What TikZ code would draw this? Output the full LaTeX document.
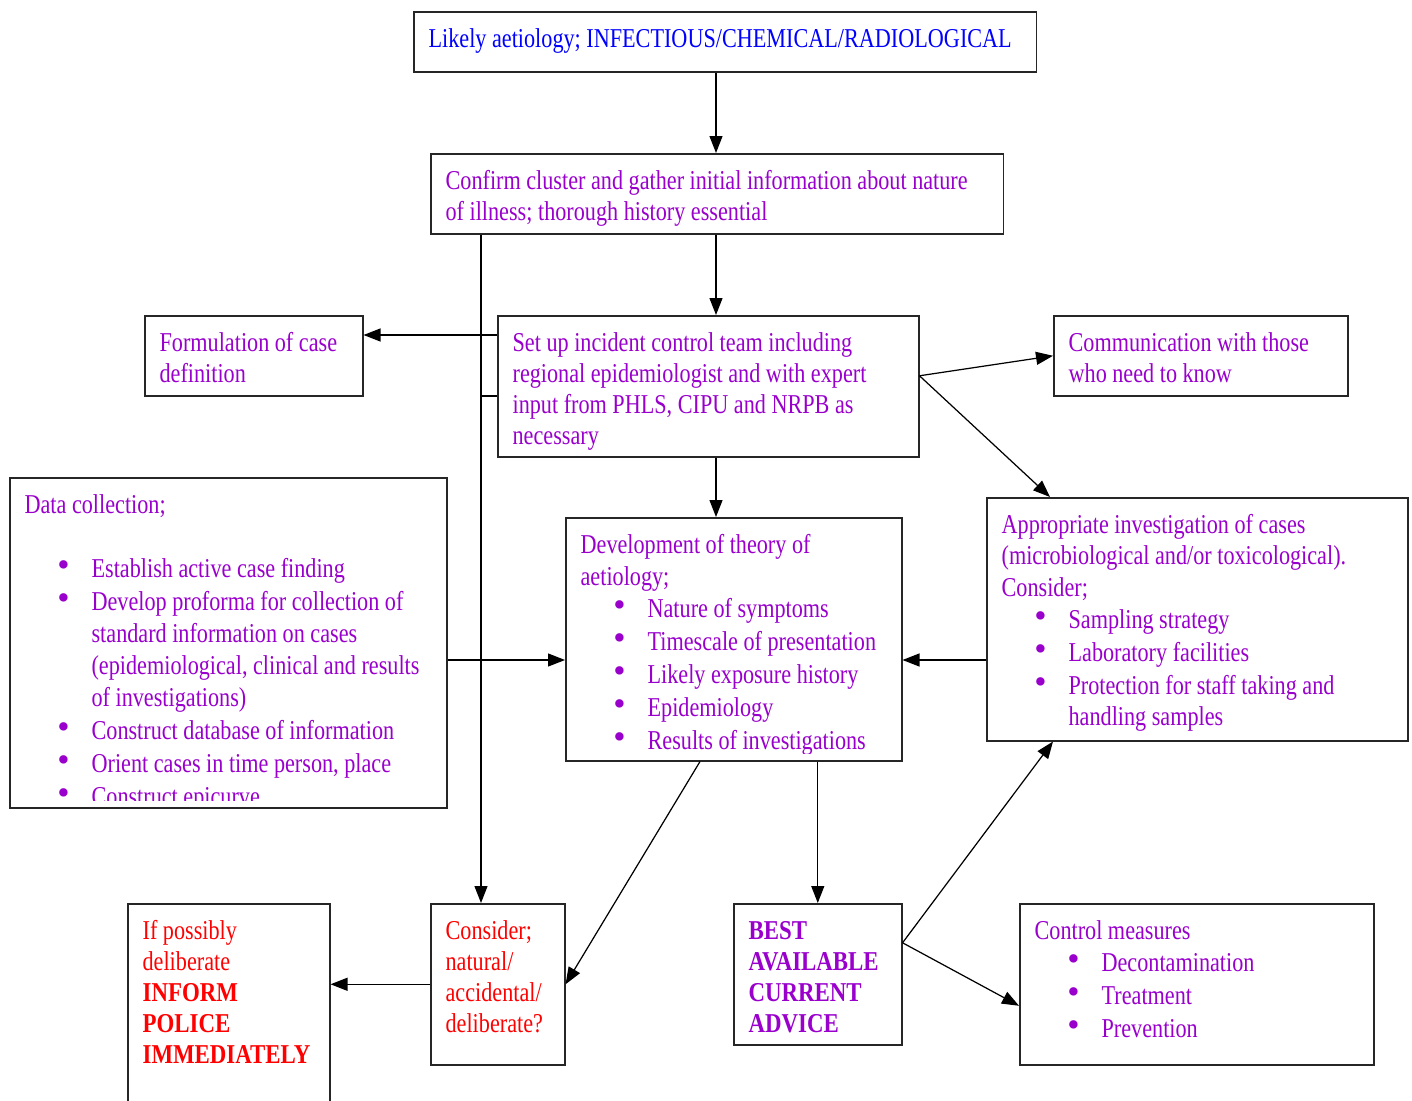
\documentclass[tikz,border=0pt]{standalone}
\usepackage{fontspec}
\setmainfont{Liberation Serif}[UprightFeatures={FakeStretch=0.815}, BoldFeatures={FakeStretch=0.84}]
\newfontfamily\dotfont{Liberation Serif}
\usetikzlibrary{arrows.meta}

\definecolor{bluetext}{RGB}{0,0,255}
\definecolor{purptext}{RGB}{153,0,204}
\definecolor{redtext}{RGB}{255,0,0}

\hyphenpenalty=10000

% bullet list used inside the boxes
\newcommand{\bigdot}{\raisebox{0.5pt}{\dotfont\fontsize{20pt}{0pt}\selectfont\textbullet}}
\newenvironment{bullets}{%
  \fontsize{15.5pt}{18.1pt}\selectfont
  \begin{list}{\bigdot}{%
    \setlength{\leftmargin}{1.34cm}%
    \setlength{\labelsep}{0.44cm}%
    \setlength{\labelwidth}{0.6cm}%
    \setlength{\topsep}{0pt}\setlength{\partopsep}{0pt}%
    \setlength{\parsep}{0pt}\setlength{\itemsep}{0.7pt}}}%
  {\end{list}}

\begin{document}
\begin{tikzpicture}[
        x = 0.02cm, y = -0.02cm, % one unit per pixel, y downwards
        ->, % Arrow style
        > = {Triangle[length=0.34cm, width=0.26cm]}, % arrow head style
        line width = 0.7pt, % line style
        font = \fontsize{15.5pt}{17.6pt}\selectfont
      ]

      \tikzstyle{box}=[rectangle, draw=black!85, line width=0.9pt, anchor=north west]
      \tikzstyle{txt}=[anchor=base west, inner sep=0pt, text=purptext, execute at begin node={\raggedright\spaceskip=0pt\xspaceskip=0pt}]

      \useasboundingbox (0,0) rectangle (1412,1101);

      % boxes
      \node[box, minimum width=12.46cm, minimum height=1.2cm] (aet) at (413,11) {};
      \node[box, minimum width=11.46cm, minimum height=1.6cm] (conf) at (430,153) {};
      \node[box, minimum width=4.36cm, minimum height=1.6cm] (form) at (144,315) {};
      \node[box, minimum width=8.42cm, minimum height=2.82cm] (setup) at (497,315) {};
      \node[box, minimum width=5.88cm, minimum height=1.6cm] (comm) at (1053,315) {};
      \node[box, minimum width=8.74cm, minimum height=6.6cm] (data) at (9,477) {};
      \node[box, minimum width=6.72cm, minimum height=4.86cm] (dev) at (565,517) {};
      \node[box, minimum width=8.42cm, minimum height=4.86cm] (appr) at (986,497) {};
      \node[box, minimum width=4.04cm, minimum height=4.14cm] (inform) at (127,903) {};
      \node[box, minimum width=2.68cm, minimum height=3.22cm] (cons) at (430,903) {};
      \node[box, minimum width=3.36cm, minimum height=2.82cm] (best) at (733,903) {};
      \node[box, minimum width=7.08cm, minimum height=3.22cm] (ctrl) at (1019,903) {};

      % texts, first baseline 36.5 below the top of each box
      \node[txt, text=bluetext] (aettxt) at ([shift={(15,36.5)}]aet.north west) {Likely aetiology; INFECTIOUS/CHEMICAL/RADIOLOGICAL};
      \node[txt, text width=11cm] (conftxt) at ([shift={(15,36.5)}]conf.north west) {Confirm cluster and gather initial information about nature\\ of illness; thorough history essential};
      \node[txt, text width=4cm] (formtxt) at ([shift={(15,36.5)}]form.north west) {Formulation of case\\ definition};
      \node[txt, text width=8cm] (setuptxt) at ([shift={(15,36.5)}]setup.north west) {Set up incident control team including\\ regional epidemiologist and with expert\\ input from PHLS, CIPU and NRPB as\\ necessary};
      \node[txt, text width=5.5cm] (commtxt) at ([shift={(15,36.5)}]comm.north west) {Communication with those\\ who need to know};
      \node[txt, text width=8cm] (apprtxt) at ([shift={(15,36.5)}]appr.north west) {Appropriate investigation of cases\\ (microbiological and/or toxicological).\\ Consider;
        \begin{bullets}
          \item Sampling strategy
          \item Laboratory facilities
          \item Protection for staff taking and\\ handling samples
        \end{bullets}};
      \node[txt, text=redtext, text width=3.6cm] (informtxt) at ([shift={(15,36.5)}]inform.north west) {If possibly\\ deliberate\\ \textbf{INFORM}\\ \textbf{POLICE}\\ \textbf{IMMEDIATELY}};
      \node[txt, text=redtext, text width=2.4cm] (constxt) at ([shift={(15,36.5)}]cons.north west) {Consider;\\ natural/\\ accidental/\\ deliberate?};
      \node[txt, text width=3cm] (besttxt) at ([shift={(15,36.5)}]best.north west) {\bfseries BEST\\ AVAILABLE\\ CURRENT\\ ADVICE};
      \node[txt, text width=6.7cm] (ctrltxt) at ([shift={(15,36.5)}]ctrl.north west) {Control measures
        \begin{bullets}
          \item Decontamination
          \item Treatment
          \item Prevention
        \end{bullets}};

      % texts that are cut off at the foot of their boxes
      \begin{scope}
        \clip (data.north west) rectangle ([yshift=0.16cm]data.south east);
        \node[txt, text width=8.2cm] (datatxt) at ([shift={(15,36.5)}]data.north west) {Data collection;\par\vspace{18.5pt}
          \begin{bullets}
            \item Establish active case finding
            \item Develop proforma for collection of\\ standard information on cases\\ (epidemiological, clinical and results\\ of investigations)
            \item Construct database of information
            \item Orient cases in time person, place
            \item Construct epicurve
          \end{bullets}};
      \end{scope}
      \begin{scope}
        \clip (dev.north west) rectangle ([yshift=0.16cm]dev.south east);
        \node[txt, text width=6.4cm] (devtxt) at ([shift={(15,36.5)}]dev.north west) {Development of theory of\\ aetiology;
          \begin{bullets}
            \item Nature of symptoms
            \item Timescale of presentation
            \item Likely exposure history
            \item Epidemiology
            \item Results of investigations
          \end{bullets}};
      \end{scope}

      % connectors
      \coordinate (ax) at (716,0);
      \coordinate (vx) at (481,0);
      \coordinate (dx) at (700,0);
      \coordinate (fy) at (0,335);
      \coordinate (jy) at (0,396);
      \coordinate (ly) at (0,660);

      \path (aet.south -| ax) edge (conf.north -| ax);
      \path (conf.south -| ax) edge (setup.north -| ax);
      \path (conf.south -| vx) edge (cons.north -| vx);
      \path (setup.west |- fy) edge (form.east |- fy);
      \draw[-] (setup.west |- jy) -- (vx |- jy);
      \path (setup.south -| ax) edge (dev.north -| ax);
      \path ([yshift=0.21cm]setup.east) edge (comm.west);
      \path ([yshift=0.21cm]setup.east) edge ([xshift=1.28cm]appr.north west);
      \path (data.east |- ly) edge (dev.west |- ly);
      \path (appr.west |- ly) edge (dev.east |- ly);
      \path (dev.south -| dx) edge (cons.east);
      \path (dev.south -| best.north) edge (best.north);
      \path ([yshift=0.63cm]best.east) edge ([xshift=1.34cm]appr.south west);
      \path ([yshift=0.63cm]best.east) edge ([yshift=-0.43cm]ctrl.west);
      \path (cons.west) edge (cons.west -| inform.east);

    \end{tikzpicture}
\end{document}
